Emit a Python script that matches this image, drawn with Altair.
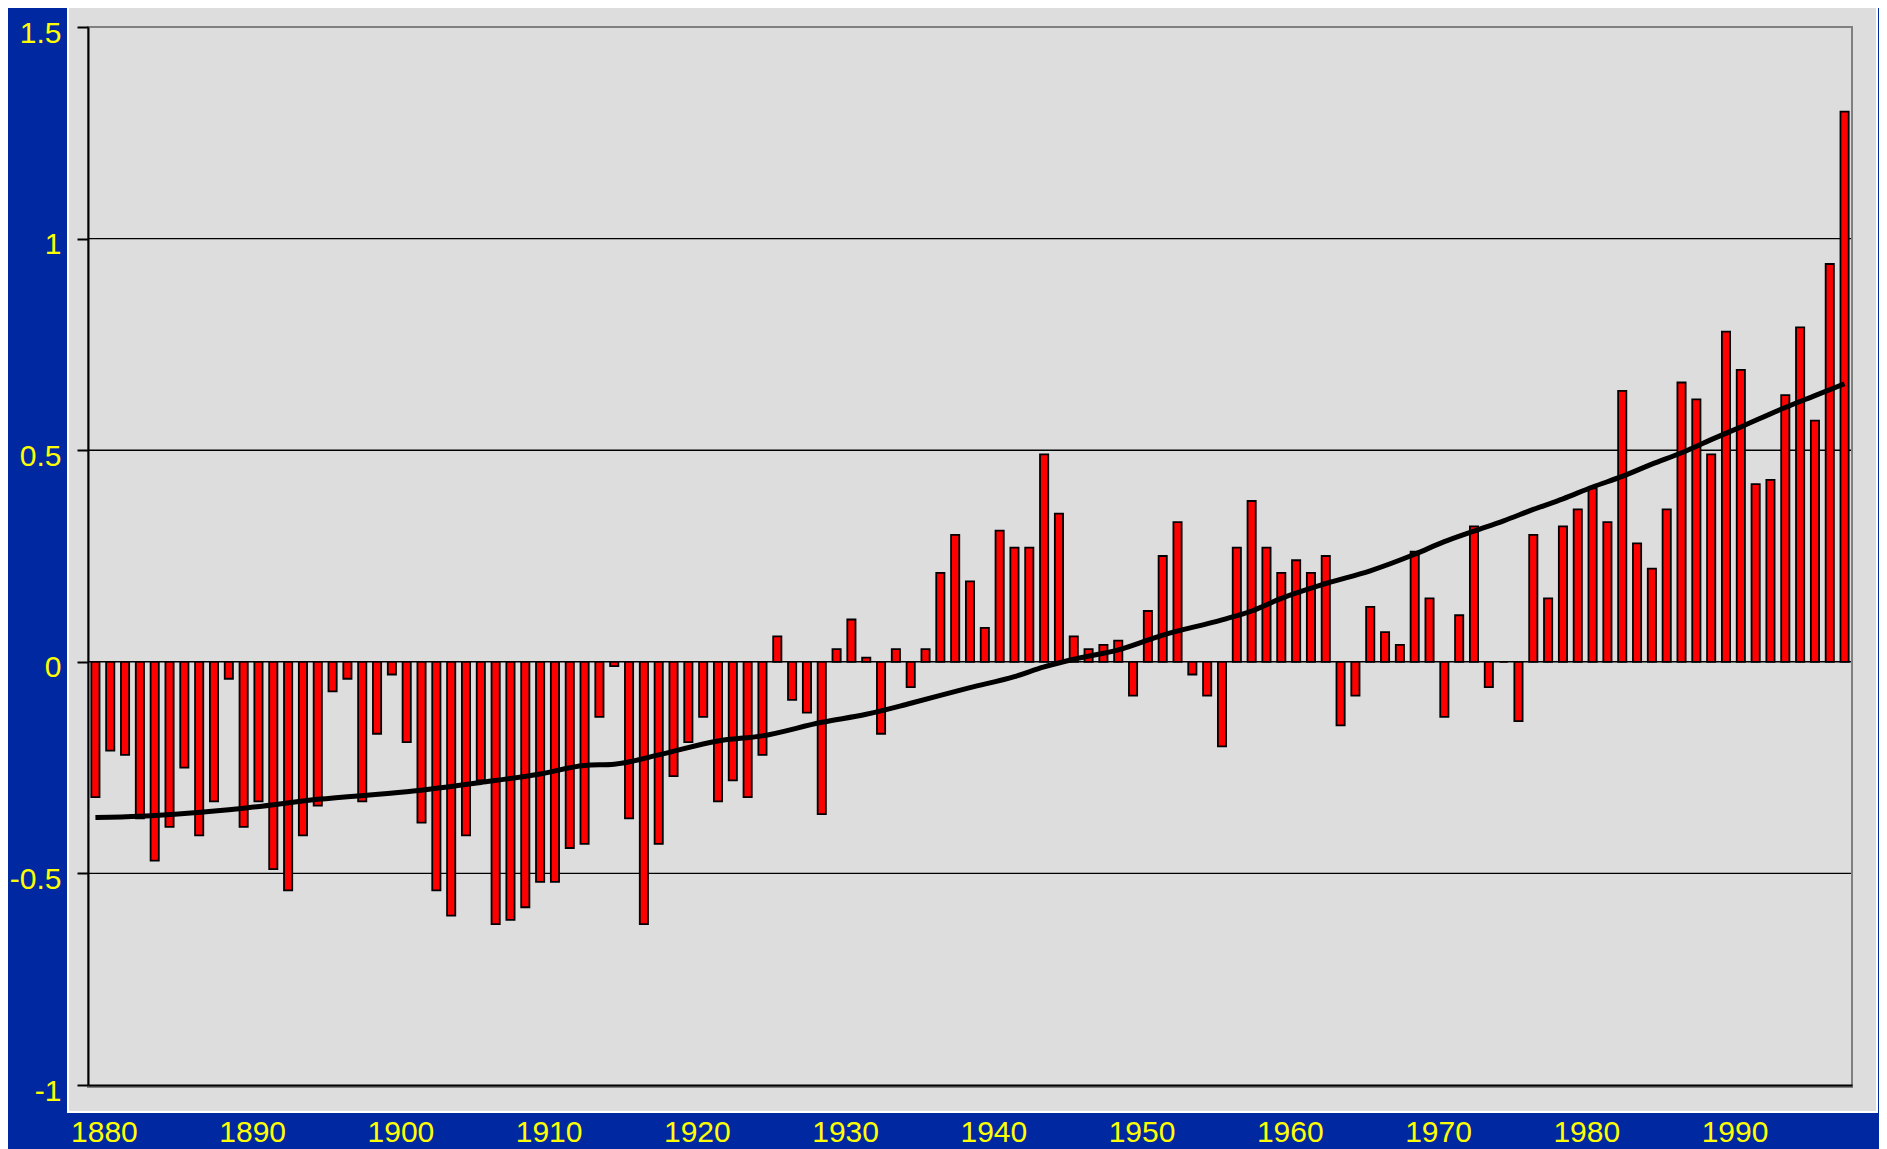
import altair as alt
import pandas as pd

# ---- data ----
years = list(range(1880, 1999))
anomalies = [
    -0.32, -0.21, -0.22, -0.37, -0.47, -0.39, -0.25, -0.41, -0.33, -0.04,   # 1880-1889
    -0.39, -0.33, -0.49, -0.54, -0.41, -0.34, -0.07, -0.04, -0.33, -0.17,   # 1890-1899
    -0.03, -0.19, -0.38, -0.54, -0.60, -0.41, -0.28, -0.62, -0.61, -0.58,   # 1900-1909
    -0.52, -0.52, -0.44, -0.43, -0.13, -0.01, -0.37, -0.62, -0.43, -0.27,   # 1910-1919
    -0.19, -0.13, -0.33, -0.28, -0.32, -0.22, 0.06, -0.09, -0.12, -0.36,    # 1920-1929
    0.03, 0.10, 0.01, -0.17, 0.03, -0.06, 0.03, 0.21, 0.30, 0.19,           # 1930-1939
    0.08, 0.31, 0.27, 0.27, 0.49, 0.35, 0.06, 0.03, 0.04, 0.05,             # 1940-1949
    -0.08, 0.12, 0.25, 0.33, -0.03, -0.08, -0.20, 0.27, 0.38, 0.27,         # 1950-1959
    0.21, 0.24, 0.21, 0.25, -0.15, -0.08, 0.13, 0.07, 0.04, 0.26,           # 1960-1969
    0.15, -0.13, 0.11, 0.32, -0.06, 0.00, -0.14, 0.30, 0.15, 0.32,          # 1970-1979
    0.36, 0.41, 0.33, 0.64, 0.28, 0.22, 0.36, 0.66, 0.62, 0.49,             # 1980-1989
    0.78, 0.69, 0.42, 0.43, 0.63, 0.79, 0.57, 0.94, 1.30,                   # 1990-1998
]

trend_years = [1880, 1883, 1890, 1895, 1901, 1906, 1910, 1913, 1915, 1918,
               1922, 1925, 1929, 1932, 1935, 1939, 1942, 1944, 1946, 1949,
               1952, 1956, 1958, 1960, 1963, 1966, 1969, 1971, 1973, 1975,
               1977, 1979, 1981, 1983, 1985, 1987, 1989, 1991, 1994, 1996, 1998]
trend_values = [-0.368, -0.365, -0.346, -0.325, -0.307, -0.285, -0.265, -0.245, -0.242, -0.220,
                -0.187, -0.175, -0.143, -0.124, -0.098, -0.061, -0.035, -0.012, 0.006, 0.028,
                0.063, 0.099, 0.120, 0.150, 0.185, 0.215, 0.254, 0.284, 0.309, 0.333,
                0.360, 0.385, 0.413, 0.438, 0.467, 0.494, 0.525, 0.555, 0.601, 0.629, 0.657]

y_ticks = [-1, -0.5, 0, 0.5, 1, 1.5]
grid_values = [-0.5, 0, 0.5, 1]
x_ticks = [1880, 1890, 1900, 1910, 1920, 1930, 1940, 1950, 1960, 1970, 1980, 1990]

# ---- styling ----
W, H = 1764, 1058
BLUE = "#0028A0"
PANEL = "#DDDDDD"
YELLOW = "#FFFF00"
FONT = "Liberation Sans"

df = pd.DataFrame({"year": years, "anomaly": anomalies})
tdf = pd.DataFrame({"year": trend_years, "trend": trend_values})
gdf = pd.DataFrame({"g": grid_values})
deco = pd.DataFrame({"k": [0]})

xscale = alt.Scale(domain=[1879.5, 1998.5], nice=False, zero=False, padding=0)
yscale = alt.Scale(domain=[-1, 1.5], nice=False, zero=False, padding=0)

xaxis = alt.Axis(values=x_ticks, labelExpr="'' + datum.value", grid=False, ticks=False,
                 domainColor="black", domainWidth=2, labelColor=YELLOW, labelFont=FONT,
                 labelFontSize=30, labelPadding=32, labelOffset=8.5, labelFlush=False,
                 labelOverlap=False, zindex=1)
yaxis = alt.Axis(values=y_ticks, labelExpr="'' + datum.value", grid=False, ticks=True,
                 tickSize=11, tickColor="black", tickWidth=2,
                 domainColor="black", domainWidth=2, labelColor=YELLOW, labelFont=FONT,
                 labelFontSize=30, labelPadding=16, labelOffset=6, labelFlush=False,
                 labelOverlap=False, zindex=1)

panel = alt.Chart(deco).mark_rect(fill=PANEL, stroke="white", strokeWidth=2).encode(
    x=alt.value(-20), x2=alt.value(W + 25), y=alt.value(-20), y2=alt.value(H + 27)
)

grid = alt.Chart(gdf).mark_rule(color="black", strokeWidth=1.4).encode(
    y=alt.Y("g:Q", scale=yscale, axis=yaxis, title=None)
)

frame = alt.Chart(deco).mark_rect(fillOpacity=0, stroke="#808080", strokeWidth=2).encode(
    x=alt.value(0), x2=alt.value(W), y=alt.value(0), y2=alt.value(H + 2)
)

bars = alt.Chart(df).mark_bar(size=8.2, fill="#FF0000", stroke="black", strokeWidth=1.8,
                              orient="vertical").encode(
    x=alt.X("year:Q", scale=xscale, axis=xaxis, title=None),
    y=alt.Y("anomaly:Q", scale=yscale, axis=yaxis, title=None),
    y2=alt.datum(0),
)

trend = alt.Chart(tdf).mark_line(color="black", strokeWidth=5, interpolate="monotone").encode(
    x=alt.X("year:Q", scale=xscale, axis=xaxis, title=None),
    y=alt.Y("trend:Q", scale=yscale, axis=yaxis, title=None),
)

chart = alt.layer(panel, grid, frame, bars, trend).properties(
    width=W, height=H, background=BLUE,
    padding={"left": 80, "top": 19, "right": 27, "bottom": 64},
    autosize=alt.AutoSizeParams(type="none"),
).configure_view(strokeWidth=0)

chart.save("out.html", embed_options={"renderer": "svg", "actions": False})
